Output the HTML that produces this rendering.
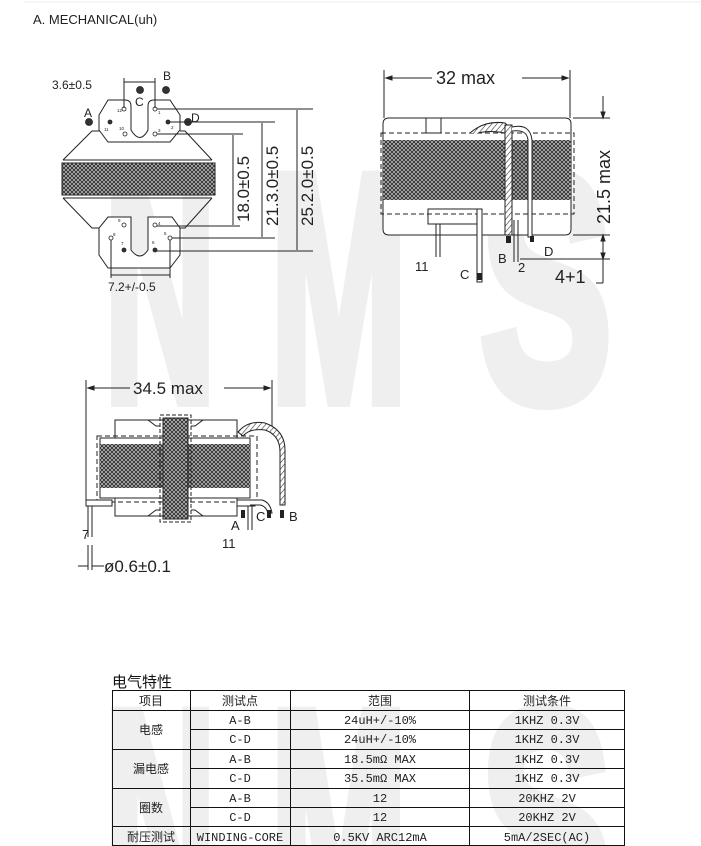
<!DOCTYPE html>
<html><head><meta charset="utf-8"><style>
html,body{margin:0;padding:0;background:#fff;width:701px;height:846px;overflow:hidden}
svg{display:block}
</style></head><body>
<svg width="701" height="846" viewBox="0 0 701 846" xmlns="http://www.w3.org/2000/svg" font-family="Liberation Sans, DejaVu Sans, sans-serif" overflow="hidden">
<defs>
<pattern id="x" width="4" height="4" patternUnits="userSpaceOnUse">
<rect width="4" height="4" fill="#c4c4c4"/>
<path d="M0 0L4 4M4 0L0 4" stroke="#333" stroke-width="1"/>
</pattern>
<pattern id="h" width="4" height="4" patternUnits="userSpaceOnUse" patternTransform="rotate(40)">
<rect width="4" height="4" fill="#fff"/><line x1="0" y1="0" x2="0" y2="4" stroke="#333" stroke-width="1.2"/>
</pattern>
<clipPath id="cp"><rect width="701" height="846"/></clipPath>
</defs>
<g clip-path="url(#cp)">
<!-- watermark -->
<g fill="#efefef" stroke="#efefef" stroke-width="14" font-size="330" font-weight="bold">
<text transform="translate(104,400) scale(0.47,0.98)">N</text>
<text transform="translate(270,400) scale(0.5,0.98)">M</text>
<text transform="translate(480,400) scale(0.6,0.98)">S</text>
<text transform="translate(104,936) scale(0.47,0.98)">N</text>
<text transform="translate(270,936) scale(0.5,0.98)">M</text>
<text transform="translate(480,936) scale(0.6,0.98)">S</text>
</g>
</g>
<line x1="24" y1="2" x2="701" y2="2" stroke="#e8eef4"/>
<text x="33" y="24" font-size="13" fill="#222">A. MECHANICAL(uh)</text>

<g stroke="#222" stroke-width="1" fill="none">
<!-- drawing 1 -->
<path d="M108 100 L125 100 Q131 100 131 106 L131 130 Q140 145 148 130 L148 106 Q148 100 154 100 L170 100 L180 115 L180 130 L170 142 L108 142 L99 130 L99 115 Z" fill="#fff"/>
<path d="M63 160 L92 131 L100 131 M180 131 L185 131 L212 160 M63 160 L212 160"/>
<rect x="62" y="163" width="153" height="32" fill="url(#x)"/>
<path d="M63 198 L92 228 L100 228 M180 228 L185 228 L212 198 M63 198 L212 198"/>
<path d="M108 217 L131 217 L131 250 Q140 262 148 250 L148 217 L172 217 L180 228 L180 255 L170 268 L108 268 L99 255 L99 228 Z" fill="#fff"/>
<g stroke-width="0.8">
<circle cx="124" cy="109" r="2"/><circle cx="155" cy="109" r="2"/><circle cx="110" cy="122" r="2" fill="#333"/><circle cx="168" cy="122" r="2" fill="#333"/><circle cx="125" cy="134" r="2"/><circle cx="155" cy="134" r="2"/>
<circle cx="140" cy="90" r="3.5" fill="#333"/><circle cx="166" cy="90" r="3.5" fill="#333"/><circle cx="89" cy="122" r="3.5" fill="#333"/><circle cx="188" cy="122" r="3.5" fill="#333"/>
<circle cx="124" cy="225" r="2"/><circle cx="155" cy="225" r="2"/><circle cx="111" cy="238" r="2"/><circle cx="170" cy="238" r="2"/><circle cx="124" cy="250" r="2" fill="#333"/><circle cx="155" cy="250" r="2" fill="#333"/>
</g>
<line x1="124" y1="78" x2="124" y2="108"/><line x1="155" y1="78" x2="155" y2="108"/><line x1="124" y1="82" x2="155" y2="82"/>
<line x1="111" y1="240" x2="111" y2="278"/><line x1="170" y1="240" x2="170" y2="278"/><line x1="111" y1="275" x2="170" y2="275"/>
<line x1="157" y1="109" x2="313" y2="109"/><line x1="170" y1="122" x2="275" y2="122"/><line x1="157" y1="134" x2="243" y2="134"/>
<line x1="157" y1="226" x2="240" y2="226"/><line x1="172" y1="238" x2="275" y2="238"/><line x1="157" y1="251" x2="313" y2="251"/>
<line x1="233" y1="135" x2="233" y2="225"/><line x1="262" y1="123" x2="262" y2="237"/><line x1="297" y1="110" x2="297" y2="250"/>
</g>
<g font-size="12" fill="#222">
<text x="52" y="89">3.6±0.5</text><text x="163" y="80">B</text><text x="135" y="106">C</text><text x="84" y="117">A</text><text x="191" y="122">D</text>
<text x="108" y="291" font-size="12">7.2+/-0.5</text>
</g>
<g font-size="4.5" fill="#222"><text x="117" y="112">12</text><text x="158" y="114">1</text><text x="104" y="131">11</text><text x="171" y="129">2</text><text x="119" y="130">10</text><text x="158" y="132">3</text>
<text x="118" y="222">9</text><text x="158" y="225">4</text><text x="113" y="236">8</text><text x="164" y="235">5</text><text x="121" y="245">7</text><text x="152" y="244">6</text></g>
<g font-size="17" fill="#222">
<text transform="translate(249,222) rotate(-90)">18.0±0.5</text>
<text transform="translate(278,226) rotate(-90)">21.3.0±0.5</text>
<text transform="translate(313,226) rotate(-90)">25.2.0±0.5</text>
</g>

<!-- drawing 2 -->
<g stroke="#222" stroke-width="1" fill="none">
<line x1="384" y1="70" x2="384" y2="118"/><line x1="570" y1="70" x2="570" y2="118"/>
<line x1="386" y1="78" x2="432" y2="78"/><line x1="522" y1="78" x2="568" y2="78"/>
<path d="M386 78l6 -2v4z M568 78l-6 -2v4z" fill="#222"/>
<path d="M389 118 L565 118 Q571 118 571 124 L571 229 Q571 235 565 235 L389 235 Q383 235 383 229 L383 124 Q383 118 389 118 Z" fill="#fff"/>
<rect x="383" y="140" width="188" height="60" fill="url(#x)" stroke="none"/>
<rect x="381" y="133" width="193" height="81" stroke-dasharray="5,3"/>
<rect x="426" y="118" width="15" height="15"/>
<rect x="428" y="209" width="50" height="15"/>
<line x1="436" y1="224" x2="436" y2="257"/><line x1="440" y1="224" x2="440" y2="257"/>
<rect x="477" y="209" width="5" height="73" fill="#fff"/>
<path d="M470 133 Q485 120 505 123 L510 128 L510 228 L505 228 L505 133 Q490 130 478 133" fill="url(#h)"/>
<rect x="505" y="125" width="7" height="110" fill="url(#h)"/>
<path d="M512 127 Q530 123 532 140 L532 237 L528 237 L528 140 Q527 129 512 131" fill="#fff"/>
<line x1="514" y1="220" x2="514" y2="262"/><line x1="518" y1="220" x2="518" y2="262"/>
<line x1="573" y1="118" x2="610" y2="118"/><line x1="573" y1="235" x2="610" y2="235"/><line x1="520" y1="259" x2="610" y2="259"/>
<line x1="603" y1="96" x2="603" y2="118"/><line x1="603" y1="235" x2="603" y2="283"/><line x1="603" y1="283" x2="596" y2="283"/>
<path d="M603 118l-2 -6h4z M603 235l-2 6h4z M603 259l-2 -6h4z" fill="#222"/>
</g>
<rect x="477" y="273" width="5" height="7" fill="#222"/><rect x="506" y="236" width="5" height="7" fill="#222"/><rect x="530" y="236" width="4" height="6" fill="#222"/>
<g font-size="18" fill="#222"><text x="436" y="84">32 max</text>
<text transform="translate(610,224) rotate(-90)">21.5 max</text>
<text x="555" y="283">4+1</text></g>
<g font-size="13" fill="#222"><text x="415" y="271">11</text><text x="460" y="279">C</text><text x="498" y="263">B</text><text x="518" y="272">2</text><text x="544" y="256">D</text></g>

<!-- drawing 3 -->
<g stroke="#222" stroke-width="1" fill="none">
<line x1="86" y1="380" x2="86" y2="500"/><line x1="272" y1="380" x2="272" y2="432"/>
<line x1="88" y1="388" x2="130" y2="388"/><line x1="224" y1="388" x2="270" y2="388"/>
<path d="M88 388l6 -2v4z M270 388l-6 -2v4z" fill="#222"/>
<rect x="115" y="420" width="122" height="96" fill="#fff"/>
<rect x="100" y="438" width="150" height="60" fill="#fff"/>
<rect x="100" y="444" width="150" height="44" fill="url(#x)" stroke="none"/>
<rect x="97" y="436" width="160" height="66" stroke-dasharray="5,3"/>
<rect x="86" y="500" width="26" height="6" fill="#fff"/><rect x="237" y="500" width="18" height="6" fill="#fff"/>
<rect x="160" y="415" width="31" height="107" stroke-dasharray="4,2"/>
<rect x="163" y="418" width="25" height="101" fill="url(#x)"/>
<path d="M148 420 l8 6 h4 M191 426 h4 l8 -6 M148 516 l8 -6 h4 M191 510 h4 l8 6"/>
<path d="M238 432 Q248 420 265 423 Q285 430 285 450 L285 505 L280 505 L280 452 Q280 435 265 430 Q250 428 243 436 Z" fill="url(#h)"/>
<path d="M250 500 L262 500 Q270 502 272 513 L268 513 Q266 506 260 505 L250 505" fill="#fff"/>
<line x1="88" y1="506" x2="88" y2="537"/><line x1="92" y1="506" x2="92" y2="537"/>
<line x1="88" y1="545" x2="88" y2="570"/><line x1="92" y1="545" x2="92" y2="570"/>
<line x1="78" y1="566" x2="88" y2="566"/><line x1="92" y1="566" x2="104" y2="566"/>
<line x1="248" y1="506" x2="248" y2="530"/><line x1="252" y1="506" x2="252" y2="530"/>
</g>
<rect x="241" y="510" width="4" height="8" fill="#222"/><rect x="267" y="510" width="4" height="8" fill="#222"/><rect x="280" y="510" width="4" height="8" fill="#222"/>
<g font-size="17" fill="#222"><text x="133" y="394">34.5 max</text><text x="104" y="572">ø0.6±0.1</text></g>
<g font-size="13" fill="#222"><text x="82" y="539">7</text><text x="231" y="530">A</text><text x="222" y="548">11</text><text x="256" y="521">C</text><text x="289" y="521">B</text></g>

<!-- table -->
<text x="112" y="687" font-size="15" fill="#111" font-family="Liberation Sans, Noto Sans CJK SC, sans-serif">电气特性</text>
<g stroke="#111" stroke-width="1" fill="none">
<rect x="112.5" y="690.5" width="512" height="155"/>
<line x1="112" y1="710.5" x2="625" y2="710.5"/>
<line x1="190" y1="729.5" x2="625" y2="729.5"/>
<line x1="112" y1="749.5" x2="625" y2="749.5"/>
<line x1="190" y1="768.5" x2="625" y2="768.5"/>
<line x1="112" y1="788.5" x2="625" y2="788.5"/>
<line x1="190" y1="807.5" x2="625" y2="807.5"/>
<line x1="112" y1="826.5" x2="625" y2="826.5"/>
<line x1="190.5" y1="690" x2="190.5" y2="846"/>
<line x1="290.5" y1="690" x2="290.5" y2="846"/>
<line x1="469.5" y1="690" x2="469.5" y2="846"/>
</g>
<g font-size="12" fill="#222" text-anchor="middle" font-family="Liberation Mono, Noto Sans CJK SC, monospace">
<text x="151" y="705">项目</text><text x="240" y="705">测试点</text><text x="380" y="705">范围</text><text x="547" y="705">测试条件</text>
<text x="151" y="734">电感</text><text x="151" y="773">漏电感</text><text x="151" y="812">圈数</text><text x="151" y="841">耐压测试</text>
<text x="240" y="724">A-B</text><text x="240" y="743">C-D</text><text x="240" y="763">A-B</text><text x="240" y="782">C-D</text><text x="240" y="802">A-B</text><text x="240" y="821">C-D</text><text x="240" y="841">WINDING-CORE</text>
<text x="380" y="724">24uH+/-10%</text><text x="380" y="743">24uH+/-10%</text><text x="380" y="763">18.5mΩ MAX</text><text x="380" y="782">35.5mΩ MAX</text><text x="380" y="802">12</text><text x="380" y="821">12</text><text x="380" y="841">0.5KV  ARC12mA</text>
<text x="547" y="724">1KHZ 0.3V</text><text x="547" y="743">1KHZ 0.3V</text><text x="547" y="763">1KHZ 0.3V</text><text x="547" y="782">1KHZ 0.3V</text><text x="547" y="802">20KHZ 2V</text><text x="547" y="821">20KHZ 2V</text><text x="547" y="841">5mA/2SEC(AC)</text>
</g>
</svg>
</body></html>
